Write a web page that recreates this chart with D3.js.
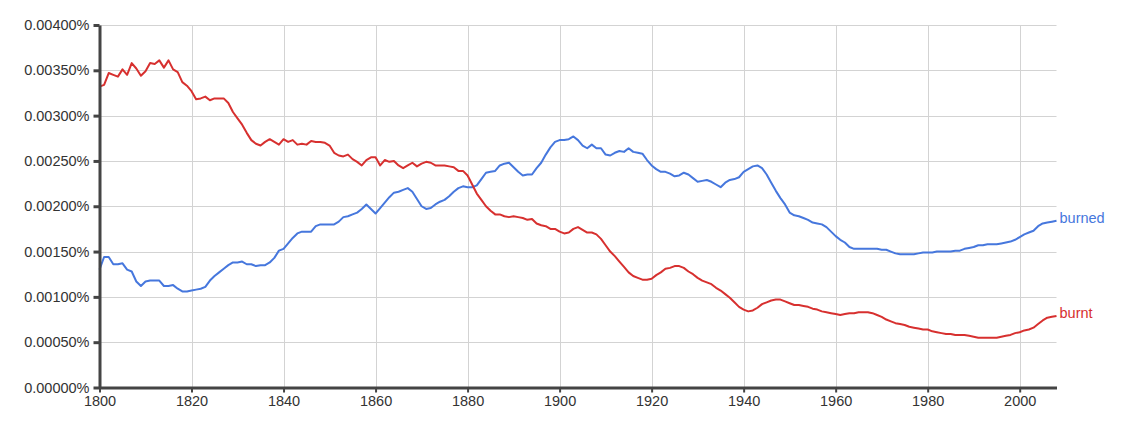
<!DOCTYPE html>
<html>
<head>
<meta charset="utf-8">
<script src="https://cdn.jsdelivr.net/npm/d3@7"></script>
<style>
  html, body { margin: 0; padding: 0; background: #fff; }
  svg { display: block; font-family: "Liberation Sans", Arial, Helvetica, sans-serif; }
</style>
</head>
<body>
<svg id="chart" width="1134" height="421"></svg>
<script>
const startYear = 1800;
const endYear = 2008;
const xTickYears = [1800, 1820, 1840, 1860, 1880, 1900, 1920, 1940, 1960, 1980, 2000];
const yTickValues = [0, 0.0005, 0.001, 0.0015, 0.002, 0.0025, 0.003, 0.0035, 0.004];
const yTickLabels = ["0.00000%", "0.00050%", "0.00100%", "0.00150%", "0.00200%", "0.00250%", "0.00300%", "0.00350%", "0.00400%"];
const seriesNames = ["burned", "burnt"];

// yearly values 1800..2008, in percent
const burned = [
  0.00130,0.00144,0.00144,0.00136,0.00136,0.00137,0.00130,0.00128,0.00117,0.00112,
  0.00117,0.00118,0.00118,0.00118,0.00112,0.00112,0.00113,0.00109,0.00106,0.00106,
  0.00107,0.00108,0.00109,0.00111,0.00118,0.00123,0.00127,0.00131,0.00135,0.00138,
  0.00138,0.00139,0.00136,0.00136,0.00134,0.00135,0.00135,0.00138,0.00143,0.00151,
  0.00153,0.00159,0.00165,0.00170,0.00172,0.00172,0.00172,0.00178,0.00180,0.00180,
  0.00180,0.00180,0.00183,0.00188,0.00189,0.00191,0.00193,0.00197,0.00202,0.00197,
  0.00192,0.00198,0.00204,0.00210,0.00215,0.00216,0.00218,0.00220,0.00216,0.00208,
  0.00200,0.00197,0.00198,0.00202,0.00205,0.00207,0.00211,0.00216,0.00220,0.00222,
  0.00221,0.00221,0.00223,0.00230,0.00237,0.00238,0.00239,0.00245,0.00247,0.00248,
  0.00243,0.00238,0.00234,0.00235,0.00235,0.00242,0.00248,0.00257,0.00265,0.00271,
  0.00273,0.00273,0.00274,0.00277,0.00273,0.00267,0.00264,0.00268,0.00264,0.00264,
  0.00257,0.00256,0.00259,0.00261,0.00260,0.00264,0.00260,0.00259,0.00258,0.00251,
  0.00245,0.00241,0.00238,0.00238,0.00236,0.00233,0.00234,0.00237,0.00235,0.00231,
  0.00227,0.00228,0.00229,0.00227,0.00224,0.00221,0.00226,0.00229,0.00230,0.00232,
  0.00238,0.00241,0.00244,0.00245,0.00242,0.00235,0.00226,0.00217,0.00209,0.00202,
  0.00193,0.00190,0.00189,0.00187,0.00185,0.00182,0.00181,0.00180,0.00177,0.00172,
  0.00167,0.00163,0.00160,0.00155,0.00153,0.00153,0.00153,0.00153,0.00153,0.00153,
  0.00152,0.00152,0.00150,0.00148,0.00147,0.00147,0.00147,0.00147,0.00148,0.00149,
  0.00149,0.00149,0.00150,0.00150,0.00150,0.00150,0.00151,0.00151,0.00153,0.00154,
  0.00155,0.00157,0.00157,0.00158,0.00158,0.00158,0.00159,0.00160,0.00161,0.00163,
  0.00166,0.00169,0.00171,0.00173,0.00178,0.00181,0.00182,0.00183,0.00184
];
const burnt = [
  0.00332,0.00334,0.00347,0.00345,0.00343,0.00351,0.00345,0.00358,0.00352,0.00344,
  0.00349,0.00358,0.00357,0.00361,0.00353,0.00361,0.00351,0.00348,0.00337,0.00333,
  0.00327,0.00318,0.00319,0.00321,0.00317,0.00319,0.00319,0.00319,0.00314,0.00304,
  0.00297,0.00290,0.00281,0.00273,0.00269,0.00267,0.00271,0.00274,0.00271,0.00268,
  0.00274,0.00271,0.00273,0.00268,0.00269,0.00268,0.00272,0.00271,0.00271,0.00270,
  0.00267,0.00259,0.00256,0.00255,0.00257,0.00252,0.00249,0.00245,0.00251,0.00254,
  0.00254,0.00245,0.00251,0.00249,0.00250,0.00245,0.00242,0.00245,0.00248,0.00244,
  0.00247,0.00249,0.00248,0.00245,0.00245,0.00245,0.00244,0.00243,0.00239,0.00239,
  0.00234,0.00224,0.00214,0.00207,0.00200,0.00195,0.00191,0.00191,0.00189,0.00188,
  0.00189,0.00188,0.00187,0.00185,0.00186,0.00181,0.00179,0.00178,0.00175,0.00175,
  0.00172,0.00170,0.00171,0.00175,0.00177,0.00174,0.00171,0.00171,0.00169,0.00164,
  0.00157,0.00150,0.00145,0.00139,0.00133,0.00127,0.00123,0.00121,0.00119,0.00119,
  0.00120,0.00124,0.00127,0.00131,0.00132,0.00134,0.00134,0.00132,0.00128,0.00125,
  0.00121,0.00118,0.00116,0.00114,0.00110,0.00107,0.00103,0.00099,0.00094,0.00089,
  0.00086,0.00084,0.00085,0.00088,0.00092,0.00094,0.00096,0.00097,0.00097,0.00095,
  0.00093,0.00091,0.00091,0.00090,0.00089,0.00087,0.00086,0.00084,0.00083,0.00082,
  0.00081,0.00080,0.00081,0.00082,0.00082,0.00083,0.00083,0.00083,0.00082,0.00080,
  0.00078,0.00075,0.00073,0.00071,0.00070,0.00069,0.00067,0.00066,0.00065,0.00064,
  0.00064,0.00062,0.00061,0.00060,0.00059,0.00059,0.00058,0.00058,0.00058,0.00057,
  0.00056,0.00055,0.00055,0.00055,0.00055,0.00055,0.00056,0.00057,0.00058,0.00060,
  0.00061,0.00063,0.00064,0.00066,0.00070,0.00074,0.00077,0.00078,0.00079
];
const seriesColors = ["#4677dd", "#d7302f"];

const svg = d3.select("#chart");
const margin = {left: 99.5, right: 1134 - 1056.5, top: 25, bottom: 421 - 387.5};
const x = d3.scaleLinear().domain([startYear, endYear]).range([margin.left, 1134 - margin.right]);
const y = d3.scaleLinear().domain([0, 0.004]).range([421 - margin.bottom, margin.top]);

// gridlines
const grid = svg.append("g");
grid.selectAll("line.h").data(yTickValues.slice(1)).enter().append("line")
  .attr("x1", x(startYear)).attr("x2", x(endYear))
  .attr("y1", d => Math.round(y(d)) + 0.5).attr("y2", d => Math.round(y(d)) + 0.5)
  .attr("stroke", "#d3d3d3").attr("stroke-width", 1);
grid.selectAll("line.v").data(xTickYears.slice(1)).enter().append("line")
  .attr("x1", d => Math.round(x(d)) + 0.5).attr("x2", d => Math.round(x(d)) + 0.5)
  .attr("y1", y(0.004)).attr("y2", y(0))
  .attr("stroke", "#d3d3d3").attr("stroke-width", 1);

// lines
const years = d3.range(startYear, endYear + 1);
const allSeries = [burned, burnt];
const lineGen = d3.line().x((d, i) => x(years[i])).y(d => y(d));
allSeries.forEach((s, k) => {
  svg.append("path")
    .datum(s)
    .attr("fill", "none")
    .attr("stroke", seriesColors[k])
    .attr("stroke-width", 2)
    .attr("stroke-linejoin", "round")
    .attr("d", lineGen);
  const last = s[s.length - 1];
  svg.append("text")
    .attr("x", x(endYear) + 3)
    .attr("y", y(last) + 2)
    .attr("fill", seriesColors[k])
    .attr("font-size", "14.5px")
    .text(seriesNames[k]);
});

// y axis
const yAxis = d3.axisLeft(y).tickValues(yTickValues)
  .tickFormat((d, i) => yTickLabels[i]).tickSize(6).tickSizeOuter(0).tickPadding(4);
const gy = svg.append("g").attr("transform", `translate(${margin.left},0)`).call(yAxis);
gy.select(".domain").attr("stroke", "#444").attr("stroke-width", 3);
gy.selectAll(".tick line").attr("stroke", "#444").attr("stroke-width", 3);
gy.selectAll(".tick text").attr("fill", "#333").attr("font-size", "14.5px")
  .attr("font-family", "'Liberation Sans', Arial, sans-serif");

// x axis
const xAxis = d3.axisBottom(x).tickValues(xTickYears).tickFormat(d3.format("d"))
  .tickSize(5).tickSizeOuter(0).tickPadding(3);
const gx = svg.append("g").attr("transform", `translate(0,${y(0)})`).call(xAxis);
gx.select(".domain").attr("stroke", "#444").attr("stroke-width", 3);
gx.selectAll(".tick line").attr("stroke", "#444").attr("stroke-width", 2);
gx.selectAll(".tick text").attr("fill", "#333").attr("font-size", "14.5px")
  .attr("font-family", "'Liberation Sans', Arial, sans-serif");
</script>
</body>
</html>
